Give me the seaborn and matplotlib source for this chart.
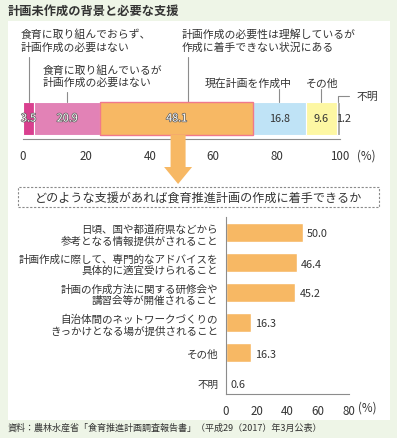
import numpy as np
import pandas as pd
import matplotlib
matplotlib.use("Agg")
import matplotlib.pyplot as plt
import matplotlib.patheffects as pe
from matplotlib.patches import Rectangle, Polygon
import seaborn as sns

# -------- DATA --------
title = "計画未作成の背景と必要な支援"
reason_labels = [
    "食育に取り組んでおらず、\n計画作成の必要はない",
    "食育に取り組んでいるが\n計画作成の必要はない",
    "計画作成の必要性は理解しているが\n作成に着手できない状況にある",
    "現在計画を作成中",
    "その他",
    "不明",
]
reason_values = [3.5, 20.9, 48.1, 16.8, 9.6, 1.2]
reason_colors = ["#d9408f", "#e282b6", "#f7b864", "#bfe3f6", "#fdf7a3", "#a9a9a9"]

question = "どのような支援があれば食育推進計画の作成に着手できるか"
support_labels = [
    "日頃、国や都道府県などから\n参考となる情報提供がされること",
    "計画作成に際して、専門的なアドバイスを\n具体的に適宜受けられること",
    "計画の作成方法に関する研修会や\n講習会等が開催されること",
    "自治体間のネットワークづくりの\nきっかけとなる場が提供されること",
    "その他",
    "不明",
]
support_values = [50.0, 46.4, 45.2, 16.3, 16.3, 0.6]
source = "資料：農林水産省「食育推進計画調査報告書」（平成29（2017）年3月公表）"

# -------- STYLE --------
sns.set_style("white")
plt.rcParams["font.family"] = ["Noto Sans CJK JP", "DejaVu Sans"]
TXT = "#333333"
GRID = "#8c8c8c"
ORANGE = "#f7b864"

W, H = 397, 439
fig = plt.figure(figsize=(W / 100, H / 100), dpi=100)
fig.patch.set_facecolor("#eef5e7")


def fx(x):
    return x / W


def fy(y):
    return 1 - y / H


# white panel
fig.patches.append(Rectangle((fx(8), fy(421)), (390 - 8) / W, (421 - 22) / H,
                             transform=fig.transFigure, fc="white", ec="none", zorder=-5))
fig.text(fx(8), fy(11), title, fontsize=8.8, fontweight="bold", color=TXT, va="center", ha="left")

# -------- TOP STACKED BAR --------
ax1 = fig.add_axes([fx(23), fy(140), 317 / W, 40 / H])
ax1.set_facecolor("none")
ax1.set_xlim(0, 100)
ax1.set_ylim(0, 1)


def py(y):
    # pixel row -> ax1 data y
    return (140 - y) / 40


lefts = np.concatenate([[0], np.cumsum(reason_values)[:-1]])
centers = lefts + np.array(reason_values) / 2
for i, (l, v, c) in enumerate(zip(lefts, reason_values, reason_colors)):
    if i == 2:
        ax1.barh(0.5125, v, left=l, height=0.825, color=c, edgecolor="#f0788c", linewidth=1.0, zorder=3)
    else:
        ax1.barh(0.5125, v, left=l, height=0.825, color=c, edgecolor="white", linewidth=0.8, zorder=2)

# value labels
stroke = [pe.withStroke(linewidth=1.0, foreground="#5a5a5a")]
for i, (cx, v) in enumerate(zip(centers, reason_values)):
    if i < 3:
        ax1.text(cx, 0.5125, f"{v:.1f}", ha="center", va="center", fontsize=7.8,
                 color="white", path_effects=stroke, zorder=4)
    elif i < 5:
        ax1.text(cx, 0.5125, f"{v:.1f}", ha="center", va="center", fontsize=7.8, color=TXT, zorder=4)
    else:
        ax1.text(101.0, 0.5125, f"{v:.1f}", ha="center", va="center", fontsize=7.8, color=TXT,
                 zorder=4, clip_on=False)

# leader lines and labels
lead = dict(color=GRID, lw=0.8, clip_on=False)
top = py(103)
ax1.plot([centers[0]] * 2, [py(58), top], **lead)
ax1.plot([centers[1]] * 2, [py(93), top], **lead)
ax1.plot([52.0] * 2, [py(58), top], **lead)
ax1.plot([centers[3]] * 2, [py(90), top], **lead)
ax1.plot([centers[4]] * 2, [py(90), top], **lead)
ax1.plot([centers[5] + 3.3, centers[5], centers[5]], [py(97), py(97), top], **lead)

lab = dict(fontsize=7.8, color=TXT, va="center", linespacing=1.38, clip_on=False)
ax1.text(-0.9, py(41), reason_labels[0], ha="left", **lab)
ax1.text(6.3, py(76.5), reason_labels[1], ha="left", **dict(lab, linespacing=1.2))
ax1.text(50.0, py(41), reason_labels[2], ha="left", **lab)
ax1.text(centers[3] - 10.0, py(83.5), reason_labels[3], ha="center", **lab)
ax1.text(centers[4] + 0.3, py(83.5), reason_labels[4], ha="center", **lab)
ax1.text(108.5, py(97), reason_labels[5], ha="center", **lab)

for s in ["top", "right", "left"]:
    ax1.spines[s].set_visible(False)
ax1.spines["bottom"].set_color(GRID)
ax1.spines["bottom"].set_linewidth(0.8)
ax1.set_yticks([])
ax1.set_xticks([0, 20, 40, 60, 80, 100])
ax1.tick_params(axis="x", direction="out", length=5, width=0.8, color=GRID,
                labelsize=8.3, labelcolor=TXT, pad=2)
ax1.annotate("(%)", xy=(100, 0), xycoords="data", xytext=(12, -11.5), textcoords="offset points",
             fontsize=8.3, color=TXT, ha="left", va="center", annotation_clip=False)

# -------- ARROW --------
ax_px = 23 + centers[2] * 3.17 + 1.5
arrow = [(ax_px - 7.5, 136), (ax_px + 7.5, 136), (ax_px + 7.5, 168), (ax_px + 14, 168),
         (ax_px, 185), (ax_px - 14, 168), (ax_px - 7.5, 168)]
fig.patches.append(Polygon([(fx(x), fy(y)) for x, y in arrow], closed=True,
                           transform=fig.transFigure, fc=ORANGE, ec="none", zorder=1))

# -------- QUESTION BOX --------
fig.patches.append(Rectangle((fx(18), fy(208)), (379 - 18) / W, 20 / H, transform=fig.transFigure,
                             fc="none", ec="#8a8a8a", lw=0.8, ls=(0, (2, 1.5)), zorder=1))
fig.text(fx(199), fy(198), question, fontsize=8.7, color=TXT, ha="center", va="center")

# -------- BOTTOM BAR CHART --------
df = pd.DataFrame({"label": support_labels, "value": support_values})
ax2 = fig.add_axes([fx(225.7), fy(395), 123.3 / W, 177 / H])
ax2.set_facecolor("none")
sns.barplot(data=df, x="value", y="label", orient="h", color=ORANGE, width=0.63,
            saturation=1, ax=ax2)
ax2.set_xlim(0, 80)
ax2.set_ylim(5.38, -0.52)
ax2.set_xlabel("")
ax2.set_ylabel("")
for i, v in enumerate(support_values):
    ax2.text(v + 2.6, i + 0.03, f"{v:.1f}", ha="left", va="center", fontsize=7.8, color=TXT)

for s in ["top", "right"]:
    ax2.spines[s].set_visible(False)
for s in ["left", "bottom"]:
    ax2.spines[s].set_color(GRID)
    ax2.spines[s].set_linewidth(0.8)
ax2.set_xticks([0, 20, 40, 60, 80])
ax2.tick_params(axis="x", direction="out", length=5, width=0.8, color=GRID,
                labelsize=8.3, labelcolor=TXT, pad=2)
ax2.tick_params(axis="y", length=0, labelsize=7.6, labelcolor=TXT, pad=5.5)
for t in ax2.get_yticklabels():
    t.set_multialignment("right")
    t.set_linespacing(1.2)
ax2.annotate("(%)", xy=(80, 5.38), xycoords="data", xytext=(6.5, -9.5), textcoords="offset points",
             fontsize=8.3, color=TXT, ha="left", va="center", annotation_clip=False)

fig.text(fx(8), fy(428.5), source, fontsize=6.5, color=TXT, ha="left", va="center")

fig.savefig("out.png", dpi=100)
